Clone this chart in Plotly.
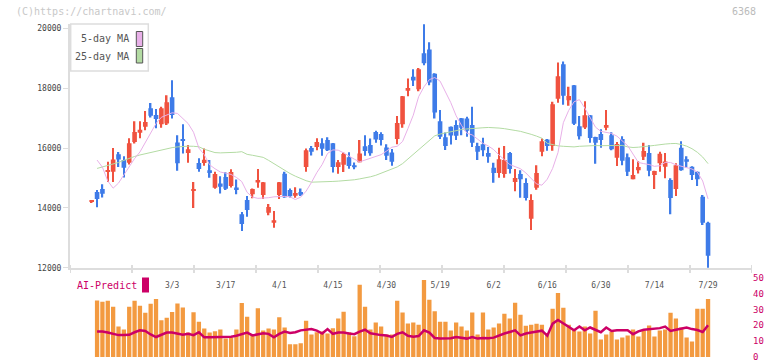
import plotly.graph_objects as go

# ---------------- data ----------------
opens = [14200,14530,14630,15210,15210,15790,15600,15510,16200,16510,
         16710,17330,17110,16800,16820,17700,16190,16300,15840,14580,
         15500,15500,15260,14670,14820,15030,14730,14680,13790,14260,
         14460,14850,14430,13840,13500,14430,15140,14600,14410,14530,
         15370,16000,16040,16160,16270,16160,15370,15440,15690,15430,
         15530,16060,16100,16540,16470,16020,15850,16300,16800,17920,
         18390,17970,19170,19300,18490,16900,16360,16710,16770,17000,
         16990,16770,16070,16130,15840,15340,15170,15130,15840,14870,
         15130,14830,13640,14670,15880,16290,16070,17650,18800,17600,
         18100,16730,16690,17100,16370,16470,16680,16430,15680,16300,
         15690,14960,15260,15710,15840,15100,15490,15380,14930,14630,
         16010,15630,15380,15210,14370,13500]
highs = [14230,14600,14790,15540,16000,15870,15730,16330,16900,16900,
         17240,17510,17310,17380,17770,18270,16430,16800,16100,14870,
         15660,15990,15600,15210,15060,15190,15290,14950,13860,14400,
         14650,15300,14870,14130,13900,14870,15210,14650,14690,14650,
         15990,16070,16330,16330,16360,16170,15600,15850,15860,15520,
         16270,16430,16320,16580,16530,16130,15970,17070,17740,18330,
         18640,18680,20140,19540,18500,17270,16520,16720,16930,17010,
         17050,17380,16180,16350,16040,15510,16010,16070,15870,15300,
         15260,14990,14460,15430,16320,16300,17550,18860,18900,18050,
         18110,17070,17570,17110,16380,16630,17270,16530,16200,16400,
         15820,15630,15560,16180,16100,15240,15880,15840,14990,15490,
         16230,15730,15390,15220,14430,13540]
lows = [14190,14020,14350,14870,14870,15370,15020,15450,16150,16330,
        16600,17020,16660,16680,16770,16990,15240,15820,15510,14000,
        15210,15410,15010,14640,14480,14600,14680,14460,13230,13700,
        14320,14670,14300,13750,13340,14300,14340,14350,14340,14400,
        15210,15750,15930,15740,15900,15180,15140,15200,15310,15290,
        15530,15740,15740,16180,16090,15600,15410,16130,16680,17730,
        18080,17900,18770,18100,16990,16300,15940,16120,16270,16430,
        16380,16040,15600,15730,15510,14840,15010,15010,15150,14560,
        14340,14250,13260,14610,15730,15910,15910,17520,17450,17420,
        16770,16290,16640,16180,15480,16010,16600,15930,15400,15430,
        15070,14960,15150,15600,15060,14630,15210,14990,13790,14400,
        15240,15350,14930,14730,13430,11950]
closes = [14220,14300,14470,15260,15620,15620,15340,16160,16540,16610,
          16870,17080,16970,17330,17530,17110,15490,16240,15960,14630,
          15300,15610,15200,15130,14710,14640,15200,14600,13460,13930,
          14630,14930,14860,14030,13590,14860,14360,14390,14500,14440,
          15930,15880,16200,15980,15930,15370,15530,15800,15400,15360,
          15820,15900,15830,16290,16270,15740,15540,16840,17730,18010,
          18260,18640,18840,18190,17190,16380,16070,16420,16410,16680,
          16580,16180,15880,15930,15710,15170,15630,15600,15300,15000,
          14960,14330,14260,15170,16230,16070,17470,18400,17750,17740,
          16810,16400,17100,16340,16180,16270,16770,15960,16140,15580,
          15210,15100,15370,15900,15240,15230,15810,15550,14330,15430,
          15260,15540,15100,14960,13500,12400]

ma5 = [None,15600,15360,14900,14660,14830,15100,15360,15650,15870,
       16190,16540,16820,17030,17100,17180,17160,16990,16820,16530,
       16000,15780,15440,15310,15200,15160,15120,15020,14880,14520,
       14360,14320,14320,14340,14370,14390,14385,14370,14280,14360,
       14560,14850,15180,15450,15820,15940,15930,15840,15730,15630,
       15540,15600,15660,15720,15780,15900,16030,16060,16220,16650,
       17100,17720,18050,18290,18360,18240,17900,17520,17080,16760,
       16500,16440,16300,16160,16070,15950,15770,15600,15450,15380,
       15310,15170,14990,14800,14760,14960,15320,15850,16850,17260,
       17550,17620,17340,17000,16700,16560,16530,16490,16400,16230,
       16080,15800,15520,15480,15450,15390,15410,15520,15520,15440,
       15390,15350,15300,15200,14900,14300]
ma25 = [None,15320,15370,15410,15445,15520,15590,15660,15720,15770,
        15810,15860,15905,15950,15990,16015,16040,16060,16065,16060,
        16045,15960,15910,15850,15840,15840,15840,15860,15880,15790,
        15760,15720,15690,15590,15480,15360,15240,15150,15060,14980,
        14910,14860,14860,14870,14880,14885,14895,14905,14925,14940,
        14970,15000,15040,15090,15160,15240,15320,15370,15480,15640,
        15800,15950,16110,16270,16410,16470,16510,16560,16600,16620,
        16640,16660,16675,16680,16690,16690,16670,16650,16630,16590,
        16560,16520,16460,16400,16330,16160,16110,16075,16060,16040,
        16040,16060,16075,16080,16085,16080,16085,16090,16100,16090,
        16040,16020,16030,16040,16070,16090,16120,16135,16150,16155,
        16120,16065,15980,15860,15700,15480]

ai_bars = [None,35.6,34.8,35.4,31.7,19.2,17.3,31.7,35.4,32.3,
           27.9,33.5,36.6,23.2,24.8,28.4,33.7,31.2,15.4,28.2,
           22.3,17.9,15.4,16.2,17.4,11.6,12.3,17.4,34.0,25.4,
           14.2,30.8,16.7,17.9,17.3,25.0,18.6,8.0,8.0,8.6,
           22.9,14.2,15.6,16.1,14.8,18.2,24.2,28.6,15.6,13.1,
           45.6,31.7,17.3,21.7,19.2,14.2,14.2,35.4,28.1,21.1,
           21.7,20.4,48.6,36.1,28.8,22.3,22.3,16.7,21.7,19.2,
           16.7,28.1,14.2,28.1,17.3,18.6,21.1,27.3,24.2,34.2,
           26.6,19.7,20.4,21.0,20.4,15.2,30.4,40.4,31.1,20.4,
           17.3,16.1,19.2,14.8,29.2,11.1,14.2,16.1,11.1,12.3,
           13.6,17.3,13.0,16.7,19.8,13.0,16.7,17.3,27.9,24.2,
           18.6,12.3,9.8,30.4,30.4,36.6]
ai_line = [None,16.1,16.1,15.4,14.4,13.8,13.8,14.0,15.6,16.8,
           16.4,14.2,12.6,14.0,15.4,15.4,14.6,14.0,14.6,13.8,
           15.6,12.4,12.4,12.4,12.6,12.6,12.8,13.4,14.2,15.4,
           13.6,14.4,15.0,14.6,12.4,14.6,16.0,15.2,15.6,16.8,
           17.4,17.6,16.6,14.8,17.6,14.6,15.4,15.4,14.8,14.4,
           16.0,17.2,15.0,14.2,13.8,13.6,12.6,14.6,15.6,13.4,
           12.8,13.2,16.8,15.4,12.0,11.6,11.6,11.8,12.6,12.0,
           11.6,12.6,11.6,12.0,11.8,12.2,13.6,14.8,15.8,16.8,
           13.6,14.8,15.4,16.0,16.6,13.4,21.0,23.4,21.2,18.6,
           16.8,19.2,16.8,18.6,17.0,15.6,18.6,16.4,16.8,16.9,
           16.9,14.4,16.2,17.2,17.4,17.6,18.2,19.2,16.4,17.2,
           17.8,18.6,17.6,17.0,15.8,20.0]

date_pos = [15, 25, 35, 45, 55, 65, 75, 85, 95, 105, 115]
date_labels = ["3/3", "3/17", "4/1", "4/15", "4/30", "5/19",
               "6/2", "6/16", "6/30", "7/14", "7/29"]

# ---------------- styling ----------------
RED = "#F0523F"
BLUE = "#3E7BE8"
ORANGE = "#F39A40"
CRIMSON = "#CC0066"
PINK = "#E8B0E8"
GREEN = "#B3DBA3"
MONO = "DejaVu Sans Mono"
AXC = "#dddddd"

# page geometry helpers (pixels -> paper fractions)
W, H = 772, 361
ML, MR, MT, MB = 70, 20, 24, 4
PW = W - ML - MR
PH = H - MT - MB
def px(x):
    return (x - ML) / PW
def py(y):
    return (H - MB - y) / PH

idx = list(range(len(opens)))
cols = [RED if c >= o else BLUE for o, c in zip(opens, closes)]
body_base = [min(o, c) for o, c in zip(opens, closes)]
body_h = [max(abs(c - o), 50) for o, c in zip(opens, closes)]
wick_h = [h - l for h, l in zip(highs, lows)]

XR = [-4.05, 123.2]
MAIN_DOM = [py(267.7), 1.0]
SUB_DOM = [0.0, py(277.7)]

fig = go.Figure()
fig.add_trace(go.Scatter(x=idx, y=ma25, mode="lines",
                         line=dict(color=GREEN, width=1), hoverinfo="skip"))
fig.add_trace(go.Scatter(x=idx, y=ma5, mode="lines",
                         line=dict(color=PINK, width=1), hoverinfo="skip"))
fig.add_trace(go.Bar(x=idx, y=wick_h, base=lows, width=0.28,
                     marker=dict(color=cols, line=dict(width=0))))
fig.add_trace(go.Bar(x=idx, y=body_h, base=body_base, width=0.86,
                     marker=dict(color=cols, line=dict(width=0))))
fig.add_trace(go.Bar(x=idx, y=ai_bars, width=0.8, xaxis="x2", yaxis="y2",
                     marker=dict(color=ORANGE, line=dict(width=0))))
fig.add_trace(go.Scatter(x=idx, y=ai_line, mode="lines", xaxis="x2", yaxis="y2",
                         line=dict(color=CRIMSON, width=2.5)))

shapes = []
# regular tick marks across the date axis line
for k in range(12):
    xv = XR[0] + k * (XR[1] - XR[0]) / 11
    shapes.append(dict(type="line", xref="x", yref="paper", x0=xv, x1=xv,
                       y0=py(273), y1=py(265), line=dict(color=AXC, width=2)))
# MA legend box
shapes.append(dict(type="rect", xref="paper", yref="paper",
                   x0=px(70.7), x1=px(148.3), y0=py(71), y1=py(24),
                   fillcolor="white", line=dict(color=AXC, width=1.5)))
shapes.append(dict(type="rect", xref="paper", yref="paper",
                   x0=px(136.3), x1=px(142.7), y0=py(46.5), y1=py(31.5),
                   fillcolor=PINK, line=dict(color="#555555", width=1)))
shapes.append(dict(type="rect", xref="paper", yref="paper",
                   x0=px(136.3), x1=px(142.7), y0=py(63), y1=py(48.5),
                   fillcolor=GREEN, line=dict(color="#555555", width=1)))
# AI-Predict marker
shapes.append(dict(type="rect", xref="paper", yref="paper",
                   x0=px(142), x1=px(149), y0=py(292.5), y1=py(277.5),
                   fillcolor=CRIMSON, line=dict(width=0)))

annotations = [
    dict(text="(C)https://chartnavi.com/", xref="paper", yref="paper",
         x=px(14), y=py(12), xanchor="left", yanchor="middle",
         showarrow=False, font=dict(family=MONO, size=10, color="#c8c8c8")),
    dict(text="6368", xref="paper", yref="paper",
         x=px(758), y=py(12), xanchor="right", yanchor="middle",
         showarrow=False, font=dict(family=MONO, size=10, color="#bbbbbb")),
    dict(text="5-day MA", xref="paper", yref="paper",
         x=px(131), y=py(39), xanchor="right", yanchor="middle",
         showarrow=False, font=dict(family=MONO, size=10, color="#555555")),
    dict(text="25-day MA", xref="paper", yref="paper",
         x=px(131), y=py(56.5), xanchor="right", yanchor="middle",
         showarrow=False, font=dict(family=MONO, size=10, color="#555555")),
    dict(text="AI-Predict", xref="paper", yref="paper",
         x=px(75), y=py(285.5), xanchor="left", yanchor="middle",
         showarrow=False, font=dict(family=MONO, size=10, color=CRIMSON)),
]

fig.update_layout(
    width=W, height=H,
    margin=dict(l=ML, r=MR, t=MT, b=MB, autoexpand=False),
    paper_bgcolor="white", plot_bgcolor="white",
    showlegend=False, barmode="overlay",
    shapes=shapes, annotations=annotations,
    xaxis=dict(domain=[0, 1], range=XR, anchor="y", automargin=False,
               tickvals=date_pos, ticktext=date_labels, ticks="",
               ticklabelstandoff=9,
               tickfont=dict(family=MONO, size=8, color="#555555"),
               showline=True, linecolor=AXC, linewidth=2,
               showgrid=False, zeroline=False, fixedrange=True),
    yaxis=dict(domain=MAIN_DOM, range=[12000, 20150], anchor="x", automargin=False,
               tickvals=[12000, 14000, 16000, 18000, 20000], tickformat="d",
               ticks="outside", ticklen=5, tickcolor=AXC, tickwidth=1,
               tickfont=dict(family=MONO, size=8, color="#444444"),
               showline=True, linecolor=AXC, linewidth=2,
               showgrid=False, zeroline=False),
    xaxis2=dict(domain=[0, 1], range=XR, anchor="y2", visible=False, automargin=False),
    yaxis2=dict(domain=SUB_DOM, range=[0, 50], anchor="x2", side="right",
                automargin=False, ticklabeloverflow="allow",
                tickvals=[0, 10, 20, 30, 40, 50], ticks="",
                tickfont=dict(family=MONO, size=9, color=CRIMSON),
                showline=False, showgrid=False, zeroline=False),
)

fig.write_html("out.html")
